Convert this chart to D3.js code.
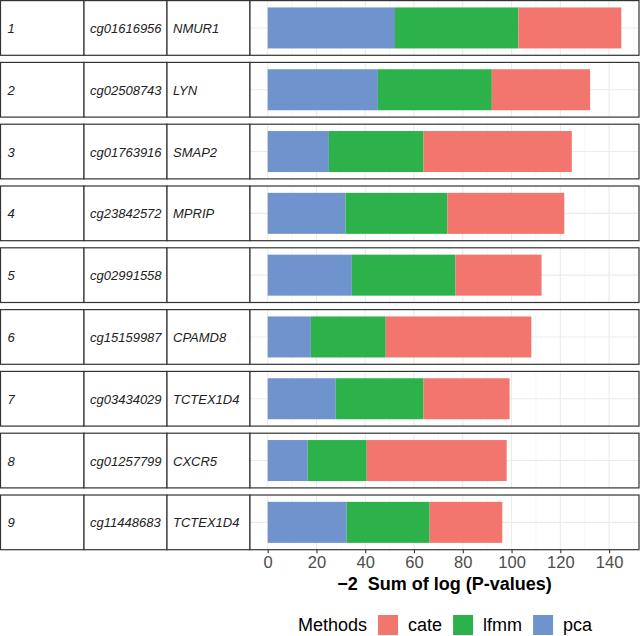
<!DOCTYPE html>
<html>
<head>
<meta charset="utf-8">
<script src="https://cdn.jsdelivr.net/npm/d3@7"></script>
<style>
  body { margin: 0; background: #fff; }
  svg { display: block; font-family: "Liberation Sans", Arial, sans-serif; }
</style>
</head>
<body>
<svg id="chart"></svg>
<script>
// values
const ranks = [1, 2, 3, 4, 5, 6, 7, 8, 9];
const probes = ['cg01616956', 'cg02508743', 'cg01763916', 'cg23842572', 'cg02991558',
                'cg15159987', 'cg03434029', 'cg01257799', 'cg11448683'];
const genes = ['NMUR1', 'LYN', 'SMAP2', 'MPRIP', '', 'CPAMD8', 'TCTEX1D4', 'CXCR5', 'TCTEX1D4'];
const pca  = [52.2, 45.2, 25.1, 31.9, 34.5, 17.7, 27.9, 16.4, 32.4];
const lfmm = [50.6, 46.7, 38.8, 41.8, 42.5, 30.7, 36.0, 24.2, 34.0];
const cate = [42.2, 40.3, 60.8, 47.9, 35.3, 59.7, 35.3, 57.4, 29.8];
const xTicks = [0, 20, 40, 60, 80, 100, 120, 140];
const xMinor = [10, 30, 50, 70, 90, 110, 130, 150];
const methods = ['cate', 'lfmm', 'pca'];
const methodColors = ['#F2766D', '#2DB24B', '#6F93CD'];

const width = 640, height = 636;
const tableCols = [0.5, 84, 167, 250];
const panel = { left: 250, right: 639 };

const rows = ranks.map((r, i) => ({
  rank: r, probe: probes[i], gene: genes[i],
  pca: pca[i], lfmm: lfmm[i], cate: cate[i]
}));

const svg = d3.select('#chart')
  .attr('width', width)
  .attr('height', height);

const color = d3.scaleOrdinal().domain(methods).range(methodColors);

const maxTotal = d3.max(rows, d => d.pca + d.lfmm + d.cate);
const pad = maxTotal * 0.05;
const xScale = d3.scaleLinear()
  .domain([-pad, maxTotal + pad])
  .range([panel.left, panel.right]);

const rowScale = d3.scaleBand()
  .domain(ranks)
  .range([0.6, 549.7])
  .paddingInner(0.115)
  .paddingOuter(0);

const stacked = d3.stack().keys(['pca', 'lfmm', 'cate'])(rows);

const row = svg.append('g')
  .selectAll('g')
  .data(rows)
  .enter()
  .append('g')
  .attr('transform', d => `translate(0,${rowScale(d.rank)})`);

const h = rowScale.bandwidth();
const barScale = d3.scaleBand()
  .domain(['bar'])
  .range([0, h])
  .paddingInner(0.25)
  .paddingOuter(0.125);

// table cells
[0, 1, 2].forEach(c => {
  row.append('rect')
    .attr('x', tableCols[c])
    .attr('y', 0)
    .attr('width', tableCols[c + 1] - tableCols[c])
    .attr('height', h)
    .attr('fill', '#fff')
    .attr('stroke', '#333')
    .attr('stroke-width', 1.2);
});

const cellText = [d => d.rank, d => d.probe, d => d.gene];
cellText.forEach((fn, c) => {
  row.append('text')
    .attr('x', tableCols[c] + (c === 0 ? 7 : 6))
    .attr('y', h / 2 + 5)
    .style('font-size', '13px')
    .style('font-style', 'italic')
    .attr('fill', '#222')
    .text(fn);
});

// panel background + grid
row.append('rect')
  .attr('x', panel.left)
  .attr('y', 0)
  .attr('width', panel.right - panel.left)
  .attr('height', h)
  .attr('fill', '#fff');

row.selectAll('.minor')
  .data(xMinor.filter(v => xScale(v) < panel.right))
  .enter()
  .append('line')
  .attr('x1', v => xScale(v)).attr('x2', v => xScale(v))
  .attr('y1', 0).attr('y2', h)
  .attr('stroke', '#f2f2f2')
  .attr('stroke-width', 0.6);

row.selectAll('.major')
  .data(xTicks)
  .enter()
  .append('line')
  .attr('x1', v => xScale(v)).attr('x2', v => xScale(v))
  .attr('y1', 0).attr('y2', h)
  .attr('stroke', '#ebebeb')
  .attr('stroke-width', 1.1);

row.append('line')
  .attr('x1', panel.left).attr('x2', panel.right)
  .attr('y1', barScale('bar') + barScale.bandwidth() / 2)
  .attr('y2', barScale('bar') + barScale.bandwidth() / 2)
  .attr('stroke', '#ebebeb')
  .attr('stroke-width', 1.1);

// stacked bars
stacked.forEach(layer => {
  row.append('rect')
    .attr('x', (d, i) => xScale(layer[i][0]))
    .attr('y', barScale('bar'))
    .attr('width', (d, i) => xScale(layer[i][1]) - xScale(layer[i][0]))
    .attr('height', barScale.bandwidth())
    .attr('fill', color(layer.key));
});

row.append('rect')
  .attr('x', panel.left)
  .attr('y', 0)
  .attr('width', panel.right - panel.left)
  .attr('height', h)
  .attr('fill', 'none')
  .attr('stroke', '#333')
  .attr('stroke-width', 1.2);

// x axis
const axisY = rowScale(9) + h;
const xAxis = svg.append('g')
  .attr('transform', `translate(0,${axisY})`)
  .call(d3.axisBottom(xScale).tickValues(xTicks).tickSize(3.5).tickPadding(3));
xAxis.select('.domain').remove();
xAxis.selectAll('line').attr('stroke', '#333').attr('stroke-width', 1.1);
xAxis.selectAll('text')
  .attr('fill', '#4d4d4d')
  .style('font-size', '16.5px')
  .style('font-family', '"Liberation Sans", Arial, sans-serif');

svg.append('text')
  .attr('x', (panel.left + panel.right) / 2)
  .attr('y', 590)
  .style('text-anchor', 'middle')
  .style('font-size', '18px')
  .style('font-weight', 'bold')
  .style('white-space', 'pre')
  .attr('fill', '#000')
  .text('\u22122  Sum of log (P-values)');

// legend
const legend = svg.append('g');
let lx = 298;
const title = legend.append('text')
  .attr('x', lx)
  .attr('y', 631)
  .style('font-size', '18px')
  .attr('fill', '#000')
  .text('Methods');
lx += title.node().getComputedTextLength() + 11;

methods.forEach(m => {
  legend.append('rect')
    .attr('x', lx)
    .attr('y', 615)
    .attr('width', 20)
    .attr('height', 20)
    .attr('fill', color(m));
  const t = legend.append('text')
    .attr('x', lx + 30)
    .attr('y', 631)
    .style('font-size', '18px')
    .attr('fill', '#000')
    .text(m);
  lx += 30 + t.node().getComputedTextLength() + 11;
});
</script>
</body>
</html>
